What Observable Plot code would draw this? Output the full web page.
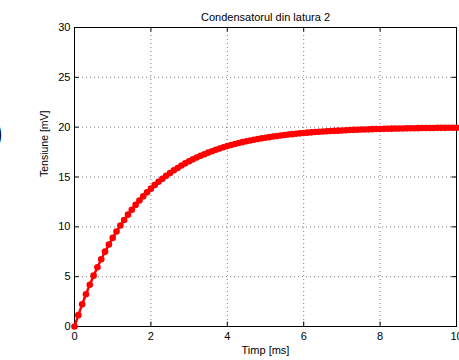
<!DOCTYPE html>
<html>
<head>
<meta charset="utf-8">
<script src="https://cdn.jsdelivr.net/npm/d3@7"></script>
<script src="https://cdn.jsdelivr.net/npm/@observablehq/plot@0.6"></script>
<style>
  html, body { margin: 0; padding: 0; background: #fff; }
  #chart { position: relative; width: 459px; height: 360px; overflow: hidden; }
</style>
</head>
<body>
<div id="chart"></div>
<script>
const titleText = "Condensatorul din latura 2";
const xLabel = "Timp [ms]";
const yLabel = "Tensiune [mV]";
const xTicks = [0, 2, 4, 6, 8, 10];
const yTicks = [0, 5, 10, 15, 20, 25, 30];

const timeMs = [
  0, 0.1, 0.2, 0.3, 0.4, 0.5, 0.6, 0.7, 0.8, 0.9,
  1, 1.1, 1.2, 1.3, 1.4, 1.5, 1.6, 1.7, 1.8, 1.9,
  2, 2.1, 2.2, 2.3, 2.4, 2.5, 2.6, 2.7, 2.8, 2.9,
  3, 3.1, 3.2, 3.3, 3.4, 3.5, 3.6, 3.7, 3.8, 3.9,
  4, 4.1, 4.2, 4.3, 4.4, 4.5, 4.6, 4.7, 4.8, 4.9,
  5, 5.1, 5.2, 5.3, 5.4, 5.5, 5.6, 5.7, 5.8, 5.9,
  6, 6.1, 6.2, 6.3, 6.4, 6.5, 6.6, 6.7, 6.8, 6.9,
  7, 7.1, 7.2, 7.3, 7.4, 7.5, 7.6, 7.7, 7.8, 7.9,
  8, 8.1, 8.2, 8.3, 8.4, 8.5, 8.6, 8.7, 8.8, 8.9,
  9, 9.1, 9.2, 9.3, 9.4, 9.5, 9.6, 9.7, 9.8, 9.9,
  10
];
const voltageMv = [
  0, 1.14, 2.22, 3.24, 4.19, 5.10, 5.95, 6.75, 7.51, 8.22,
  8.89, 9.53, 10.13, 10.69, 11.22, 11.72, 12.20, 12.64, 13.06, 13.46,
  13.83, 14.19, 14.52, 14.83, 15.13, 15.40, 15.67, 15.91, 16.15, 16.37,
  16.58, 16.77, 16.96, 17.13, 17.29, 17.45, 17.59, 17.73, 17.86, 17.98,
  18.10, 18.21, 18.31, 18.41, 18.50, 18.58, 18.66, 18.74, 18.81, 18.88,
  18.94, 19.00, 19.06, 19.11, 19.17, 19.21, 19.26, 19.30, 19.34, 19.38,
  19.41, 19.45, 19.48, 19.51, 19.54, 19.56, 19.59, 19.61, 19.63, 19.65,
  19.67, 19.69, 19.71, 19.73, 19.74, 19.76, 19.77, 19.78, 19.80, 19.81,
  19.82, 19.83, 19.84, 19.85, 19.86, 19.87, 19.87, 19.88, 19.89, 19.89,
  19.90, 19.91, 19.91, 19.92, 19.92, 19.93, 19.93, 19.93, 19.94, 19.94,
  19.94
];

const data = timeMs.map((t, i) => ({t, v: voltageMv[i]}));
const innerX = xTicks.slice(1, -1);
const innerY = yTicks.slice(1, -1);

const chart = Plot.plot({
  width: 459,
  height: 360,
  marginLeft: 74,
  marginRight: 3,
  marginTop: 27,
  marginBottom: 34,
  style: {fontFamily: "'Liberation Sans', Arial, Helvetica, sans-serif", fontSize: "11px", background: "#fff", color: "#000"},
  x: {domain: [0, 10]},
  y: {domain: [0, 30]},
  marks: [
    Plot.gridX(innerX, {stroke: "#000", strokeOpacity: 0.5, strokeDasharray: "1,3"}),
    Plot.gridY(innerY, {stroke: "#000", strokeOpacity: 0.5, strokeDasharray: "1,3"}),
    Plot.ruleX(xTicks, {y1: 0, y2: 0.45, stroke: "#000"}),
    Plot.ruleX(xTicks, {y1: 30, y2: 29.55, stroke: "#000"}),
    Plot.ruleY(yTicks, {x1: 0, x2: 0.12, stroke: "#000"}),
    Plot.ruleY(yTicks, {x1: 10, x2: 9.88, stroke: "#000"}),
    Plot.frame({stroke: "#000", strokeWidth: 1}),
    Plot.axisX(xTicks, {tickSize: 0, tickPadding: 6, label: null, fontSize: 11}),
    Plot.axisY(yTicks, {tickSize: 0, tickPadding: 4, label: null, fontSize: 11}),
    Plot.line(data, {x: "t", y: "v", stroke: "#ff0000", strokeWidth: 2.5}),
    Plot.dot(data, {x: "t", y: "v", r: 3.3, fill: "#ff0000", stroke: "none"}),
    Plot.text([titleText], {frameAnchor: "top", dy: -14, fontSize: 11, fill: "#000"}),
    Plot.text([xLabel], {frameAnchor: "bottom", dy: 27, fontSize: 11, fill: "#000"}),
    Plot.text([yLabel], {frameAnchor: "left", dx: -30, rotate: -90, fontSize: 10.5, fill: "#000"}),
    Plot.text([")"], {frameAnchor: "left", dx: -82, dy: -44, textAnchor: "start", fontSize: 30, fontWeight: "bold", fill: "black"})
  ]
});
document.getElementById("chart").appendChild(chart);
</script>
</body>
</html>
